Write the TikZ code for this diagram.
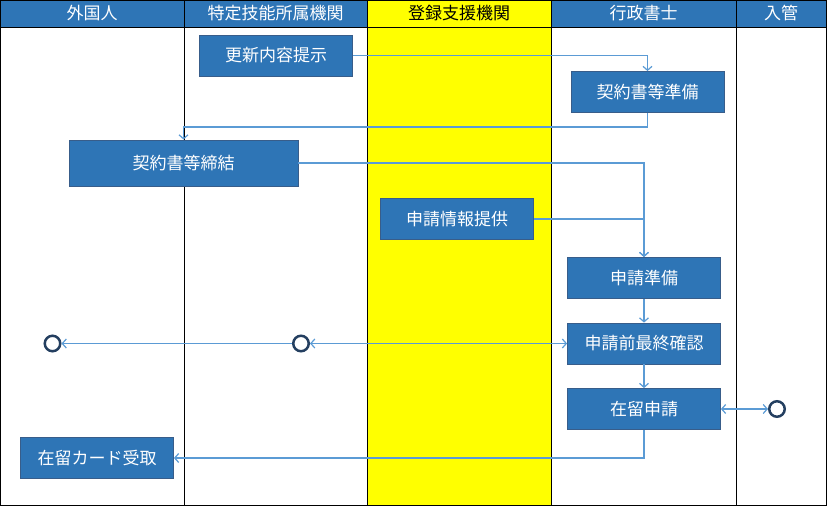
\documentclass[tikz,border=0pt]{standalone}
\usepackage{fontspec}
\setmainfont{Noto Sans CJK JP}
\usetikzlibrary{arrows.meta}
\definecolor{boxblue}{HTML}{2E75B6}
\definecolor{boxedge}{HTML}{385D8A}
\definecolor{linkblue}{HTML}{5B9BD5}
\definecolor{ringedge}{HTML}{243F60}
\definecolor{laneyellow}{HTML}{FFFF00}

\begin{document}
\begin{tikzpicture}[x=1pt, y=-1pt,
    >={Straight Barb[length=4pt,width=9pt]},
    head/.style={text=white, font=\fontsize{17}{20}\selectfont},
    stepbox/.style={draw=boxedge, fill=boxblue, text=white, line width=0.8pt,
        minimum width=153pt, minimum height=41pt, inner sep=0pt,
        font=\fontsize{17}{20}\selectfont},
    ring/.style={circle, draw=ringedge, fill=white, line width=2.5pt,
        minimum size=15.5pt, inner sep=0pt},
    link/.style={draw=linkblue, line width=1.2pt}]
    \useasboundingbox (0,0) rectangle (827,506);

    % lanes
    \fill[boxblue] (0,0) rectangle (826,27);
    \fill[laneyellow] (367,0) rectangle (551,505);
    \draw[line width=0.8pt] (0.5,0.5) rectangle (826,505);
    \draw[line width=0.8pt] (0,27) -- (826,27);
    \foreach \x in {184,367,551,736}
        \draw[line width=0.8pt] (\x,0) -- (\x,505);

    \node[head] (hGaikoku) at (92,13.5) {外国人};
    \node[head] (hShozoku) at (275.5,13.5) {特定技能所属機関};
    \node[head, text=black] (hShien) at (459,13.5) {登録支援機関};
    \node[head] (hGyosei) at (643.5,13.5) {行政書士};
    \node[head] (hNyukan) at (781,13.5) {入管};

    % steps
    \node[stepbox] (koshin) at (276,55.5) {更新内容提示};
    \node[stepbox] (keiyakuJunbi) at (647.5,92) {契約書等準備};
    \node[stepbox, minimum width=229pt, minimum height=46pt] (teiketsu) at (183.5,163) {契約書等締結};
    \node[stepbox] (teikyo) at (457,219) {申請情報提供};
    \node[stepbox] (shinseiJunbi) at (644,278) {申請準備};
    \node[stepbox] (kakunin) at (644,343.5) {申請前最終確認};
    \node[stepbox] (zairyu) at (644,409) {在留申請};
    \node[stepbox] (card) at (97,458) {在留カード受取};

    \node[ring] (endGaikoku) at (52.5,343.5) {};
    \node[ring] (endShozoku) at (301,343.5) {};
    \node[ring] (endNyukan) at (777,409) {};

    % flow
    \draw[link,->] (koshin.east) -| (keiyakuJunbi.north);
    \draw[link,->] (keiyakuJunbi.south) -- ++(0,14) -| (teiketsu.north);
    \draw[link,->] (teiketsu.east) -| (shinseiJunbi.north);
    \draw[link,->] (teikyo.east) -| (shinseiJunbi.north);
    \draw[link,->] (shinseiJunbi) -- (kakunin);
    \draw[link,<->] (endShozoku) -- (kakunin.west);
    \draw[link,->] (endShozoku) -- (endGaikoku);
    \draw[link,->] (kakunin) -- (zairyu);
    \draw[link,<->] (zairyu.east) -- (endNyukan);
    \draw[link,->] (zairyu.south) |- (card.east);
\end{tikzpicture}
\end{document}
